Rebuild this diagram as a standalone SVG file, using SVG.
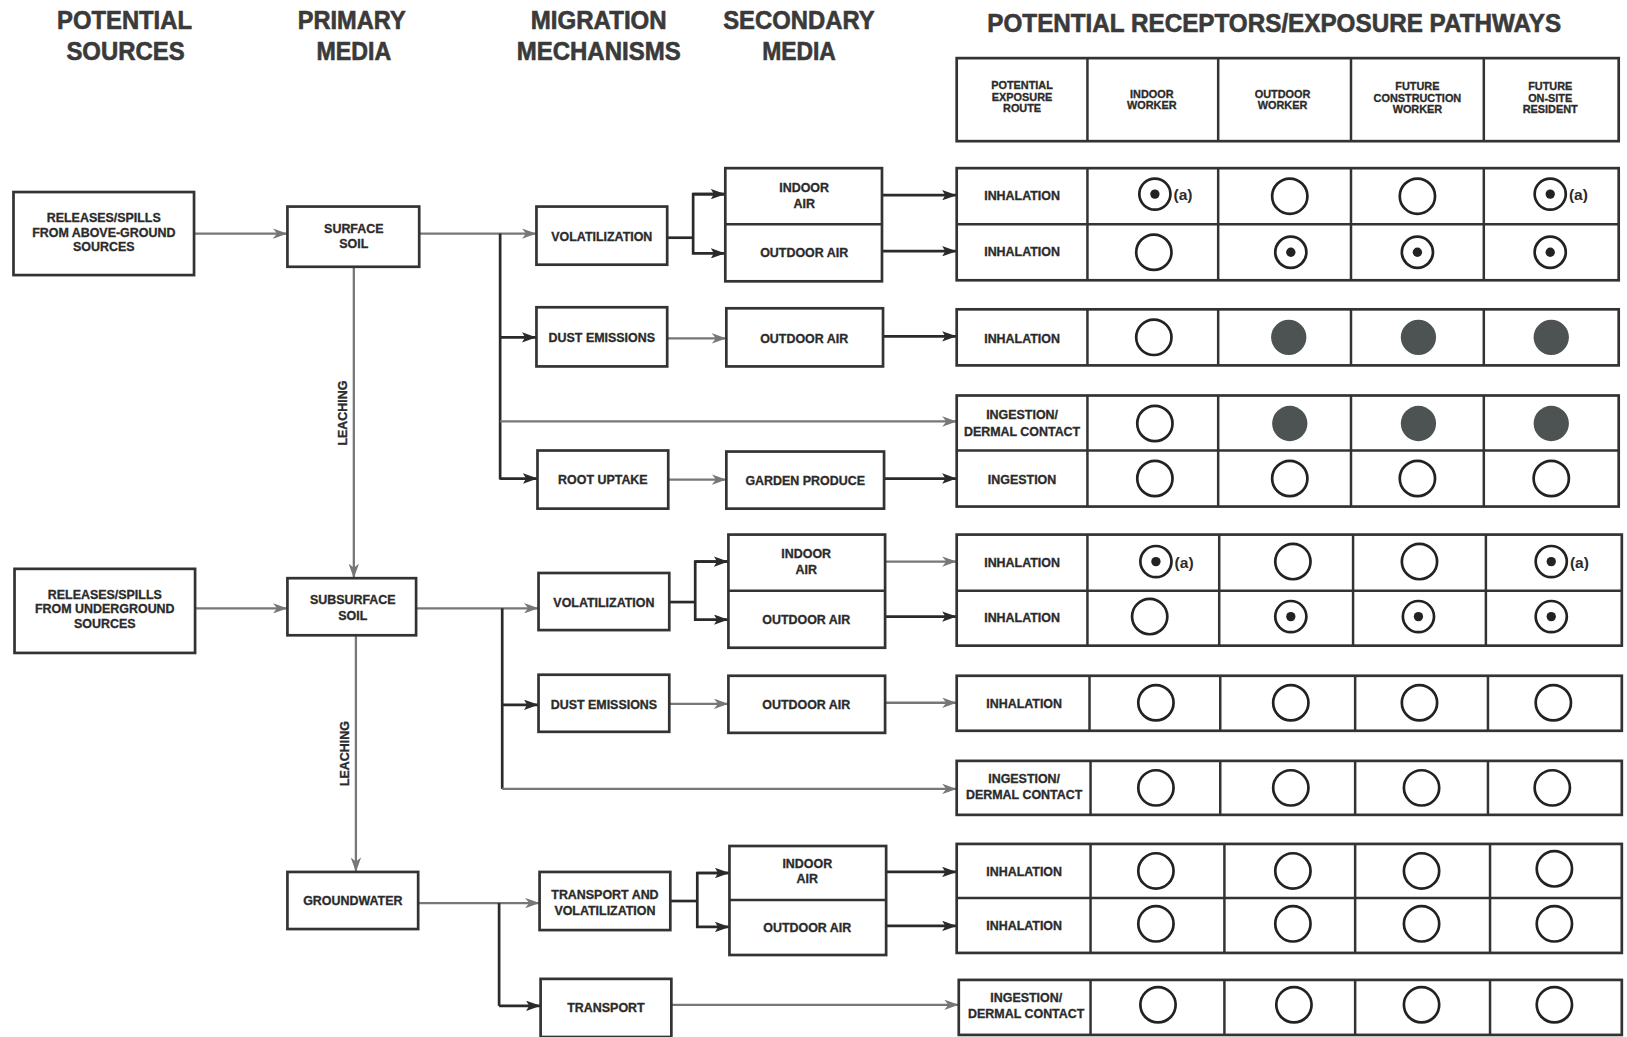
<svg xmlns="http://www.w3.org/2000/svg" width="1627" height="1037" viewBox="0 0 1627 1037">
<style>
.bx{fill:#fff;stroke:#333;stroke-width:2.6}
.tl{fill:none;stroke:#333;stroke-width:2.4}
.t{font-family:"Liberation Sans",Arial,sans-serif;font-weight:bold;font-size:12px;fill:#2b2b2b;stroke:#2b2b2b;stroke-width:0.3;text-anchor:middle}
.h{font-family:"Liberation Sans",Arial,sans-serif;font-weight:bold;font-size:25px;fill:#3a3a3a;stroke:#3a3a3a;stroke-width:0.6;text-anchor:middle}
.s{font-family:"Liberation Sans",Arial,sans-serif;font-weight:bold;font-size:10.5px;fill:#2b2b2b;stroke:#2b2b2b;stroke-width:0.3;text-anchor:middle}
.a{font-family:"Liberation Sans",Arial,sans-serif;font-weight:bold;font-size:15px;fill:#2b2b2b}
.d{fill:none;stroke:#2a2a2a;stroke-width:2.6}
.g{fill:none;stroke:#777;stroke-width:2.2}
.o{fill:none;stroke:#222;stroke-width:2.6}
.f{fill:#4d5352}
.p{fill:#222}
</style>
<defs>
<marker id="ma" viewBox="0 0 14 10" refX="14" refY="5" markerWidth="14" markerHeight="10" markerUnits="userSpaceOnUse" orient="auto"><path d="M0,0 L14,5 L0,10 L3,5 z" fill="#2a2a2a"/></marker>
<marker id="mg" viewBox="0 0 14 10" refX="14" refY="5" markerWidth="14" markerHeight="10" markerUnits="userSpaceOnUse" orient="auto"><path d="M0,0 L14,5 L0,10 L4,5 z" fill="#777"/></marker>
</defs>
<rect width="1627" height="1037" fill="#fff"/>
<g transform="scale(1.03763 1.03804)">
<g id="titles">
<text class="h" x="120" y="28" textLength="130" lengthAdjust="spacingAndGlyphs">POTENTIAL</text>
<text class="h" x="121" y="58" textLength="114" lengthAdjust="spacingAndGlyphs">SOURCES</text>
<text class="h" x="339" y="28" textLength="104" lengthAdjust="spacingAndGlyphs">PRIMARY</text>
<text class="h" x="341" y="58" textLength="72" lengthAdjust="spacingAndGlyphs">MEDIA</text>
<text class="h" x="577" y="28" textLength="131" lengthAdjust="spacingAndGlyphs">MIGRATION</text>
<text class="h" x="577" y="58" textLength="158" lengthAdjust="spacingAndGlyphs">MECHANISMS</text>
<text class="h" x="770" y="28" textLength="146" lengthAdjust="spacingAndGlyphs">SECONDARY</text>
<text class="h" x="770" y="58" textLength="71" lengthAdjust="spacingAndGlyphs">MEDIA</text>
<text class="h" x="1228" y="31" textLength="553" lengthAdjust="spacingAndGlyphs">POTENTIAL RECEPTORS/EXPOSURE PATHWAYS</text>
</g>
<g id="connectors">
<line class="g" x1="187" y1="225" x2="277" y2="225" marker-end="url(#mg)"/>
<line class="g" x1="404" y1="225" x2="517" y2="225" marker-end="url(#mg)"/>
<line class="d" x1="482" y1="225" x2="482" y2="462"/>
<line class="d" x1="482" y1="325" x2="517" y2="325" marker-end="url(#ma)"/>
<line class="g" x1="482" y1="406" x2="922" y2="406" marker-end="url(#mg)"/>
<line class="d" x1="482" y1="461" x2="518" y2="461" marker-end="url(#ma)"/>
<polyline class="d" points="643,229 668,229"/>
<polyline class="d" points="699,187 668,187 668,244 699,244" marker-end="url(#ma)"/>
<line class="d" x1="668" y1="187" x2="699" y2="187" marker-end="url(#ma)"/>
<line class="d" x1="850" y1="188" x2="922" y2="188" marker-end="url(#ma)"/>
<line class="d" x1="850" y1="242" x2="922" y2="242" marker-end="url(#ma)"/>
<line class="g" x1="643" y1="326" x2="700" y2="326" marker-end="url(#mg)"/>
<line class="d" x1="851" y1="324" x2="922" y2="324" marker-end="url(#ma)"/>
<line class="g" x1="644" y1="462" x2="700" y2="462" marker-end="url(#mg)"/>
<line class="d" x1="852" y1="461" x2="922" y2="461" marker-end="url(#ma)"/>
<line class="g" x1="341" y1="257" x2="341" y2="557" marker-end="url(#mg)"/>
<line class="g" x1="188" y1="586" x2="277" y2="586" marker-end="url(#mg)"/>
<line class="g" x1="401" y1="586" x2="519" y2="586" marker-end="url(#mg)"/>
<line class="d" x1="484" y1="586" x2="484" y2="760"/>
<line class="d" x1="484" y1="679" x2="519" y2="679" marker-end="url(#ma)"/>
<line class="g" x1="484" y1="760" x2="922" y2="760" marker-end="url(#mg)"/>
<polyline class="d" points="645,580 670,580"/>
<polyline class="d" points="702,541 670,541 670,597 702,597" marker-end="url(#ma)"/>
<line class="d" x1="670" y1="541" x2="702" y2="541" marker-end="url(#ma)"/>
<line class="g" x1="853" y1="541" x2="922" y2="541" marker-end="url(#mg)"/>
<line class="d" x1="853" y1="594" x2="922" y2="594" marker-end="url(#ma)"/>
<line class="g" x1="645" y1="678" x2="702" y2="678" marker-end="url(#mg)"/>
<line class="g" x1="853" y1="677" x2="922" y2="677" marker-end="url(#mg)"/>
<line class="g" x1="343" y1="612" x2="343" y2="840" marker-end="url(#mg)"/>
<line class="g" x1="403" y1="870" x2="520" y2="870" marker-end="url(#mg)"/>
<line class="d" x1="481" y1="870" x2="481" y2="969"/>
<line class="d" x1="481" y1="969" x2="521" y2="969" marker-end="url(#ma)"/>
<polyline class="d" points="646,868 672,868"/>
<polyline class="d" points="703,841 672,841 672,893 703,893" marker-end="url(#ma)"/>
<line class="d" x1="672" y1="841" x2="703" y2="841" marker-end="url(#ma)"/>
<line class="d" x1="854" y1="840" x2="922" y2="840" marker-end="url(#ma)"/>
<line class="d" x1="854" y1="892" x2="922" y2="892" marker-end="url(#ma)"/>
<line class="g" x1="647" y1="968" x2="924" y2="968" marker-end="url(#mg)"/>
<text class="t" transform="translate(334 398) rotate(-90)">LEACHING</text>
<text class="t" transform="translate(336 726) rotate(-90)">LEACHING</text>
</g>
<g id="src1"><rect class="bx" x="13" y="185" width="174" height="80"/>
<text class="t" x="100" y="214">RELEASES/SPILLS</text><text class="t" x="100" y="228">FROM ABOVE-GROUND</text><text class="t" x="100" y="242">SOURCES</text></g>
<g id="src2"><rect class="bx" x="14" y="548" width="174" height="81"/>
<text class="t" x="101" y="577">RELEASES/SPILLS</text><text class="t" x="101" y="591">FROM UNDERGROUND</text><text class="t" x="101" y="605">SOURCES</text></g>
<g id="surface"><rect class="bx" x="277" y="199" width="127" height="58"/>
<text class="t" x="341" y="224">SURFACE</text><text class="t" x="341" y="239">SOIL</text></g>
<g id="subsurface"><rect class="bx" x="277" y="557" width="124" height="55"/>
<text class="t" x="340" y="582">SUBSURFACE</text><text class="t" x="340" y="597">SOIL</text></g>
<g id="groundwater"><rect class="bx" x="277" y="840" width="126" height="55"/>
<text class="t" x="340" y="872">GROUNDWATER</text></g>
<g id="vol1"><rect class="bx" x="517" y="199" width="126" height="56"/><text class="t" x="580" y="232">VOLATILIZATION</text></g>
<g id="dust1"><rect class="bx" x="517" y="296" width="126" height="57"/><text class="t" x="580" y="329">DUST EMISSIONS</text></g>
<g id="root"><rect class="bx" x="518" y="434" width="126" height="56"/><text class="t" x="581" y="466">ROOT UPTAKE</text></g>
<g id="vol2"><rect class="bx" x="519" y="552" width="126" height="55"/><text class="t" x="582" y="585">VOLATILIZATION</text></g>
<g id="dust2"><rect class="bx" x="519" y="650" width="126" height="55"/><text class="t" x="582" y="683">DUST EMISSIONS</text></g>
<g id="tv"><rect class="bx" x="520" y="840" width="126" height="56"/><text class="t" x="583" y="866">TRANSPORT AND</text><text class="t" x="583" y="881">VOLATILIZATION</text></g>
<g id="transport"><rect class="bx" x="521" y="943" width="126" height="56"/><text class="t" x="584" y="975">TRANSPORT</text></g>
<g id="air1"><rect class="bx" x="699" y="162" width="151" height="109"/><line class="tl" x1="699" y1="216" x2="850" y2="216"/>
<text class="t" x="775" y="185">INDOOR</text><text class="t" x="775" y="200">AIR</text><text class="t" x="775" y="248">OUTDOOR AIR</text></g>
<g id="oa1"><rect class="bx" x="700" y="297" width="151" height="56"/><text class="t" x="775" y="330">OUTDOOR AIR</text></g>
<g id="garden"><rect class="bx" x="700" y="435" width="152" height="55"/><text class="t" x="776" y="467">GARDEN PRODUCE</text></g>
<g id="air2"><rect class="bx" x="702" y="515" width="151" height="109"/><line class="tl" x1="702" y1="569" x2="853" y2="569"/>
<text class="t" x="777" y="538">INDOOR</text><text class="t" x="777" y="553">AIR</text><text class="t" x="777" y="601">OUTDOOR AIR</text></g>
<g id="oa2"><rect class="bx" x="702" y="651" width="151" height="55"/><text class="t" x="777" y="683">OUTDOOR AIR</text></g>
<g id="air3"><rect class="bx" x="703" y="815" width="151" height="105"/><line class="tl" x1="703" y1="867" x2="854" y2="867"/>
<text class="t" x="778" y="836">INDOOR</text><text class="t" x="778" y="851">AIR</text><text class="t" x="778" y="898">OUTDOOR AIR</text></g>
<g id="header"><rect class="bx" x="922" y="56" width="638" height="80"/>
<path class="tl" d="M1048,56V136M1174,56V136M1302,56V136M1430,56V136"/>
<text class="s" x="985" y="86">POTENTIAL</text><text class="s" x="985" y="97">EXPOSURE</text><text class="s" x="985" y="108">ROUTE</text>
<text class="s" x="1110" y="94">INDOOR</text><text class="s" x="1110" y="105">WORKER</text>
<text class="s" x="1236" y="94">OUTDOOR</text><text class="s" x="1236" y="105">WORKER</text>
<text class="s" x="1366" y="87">FUTURE</text><text class="s" x="1366" y="98">CONSTRUCTION</text><text class="s" x="1366" y="109">WORKER</text>
<text class="s" x="1494" y="87">FUTURE</text><text class="s" x="1494" y="98">ON-SITE</text><text class="s" x="1494" y="109">RESIDENT</text></g>
<g id="rowA"><rect class="bx" x="922" y="162" width="638" height="108"/><line class="tl" x1="922" y1="216" x2="1560" y2="216"/>
<path class="tl" d="M1048,162V270M1174,162V270M1302,162V270M1430,162V270"/>
<text class="t" x="985" y="193">INHALATION</text><text class="t" x="985" y="247">INHALATION</text>
<circle class="o" cx="1113" cy="187" r="15"/><circle class="p" cx="1113" cy="187" r="4.5"/><text class="a" x="1131" y="193">(a)</text>
<circle class="o" cx="1243" cy="189" r="17"/><circle class="o" cx="1366" cy="189" r="17"/>
<circle class="o" cx="1494" cy="187" r="15"/><circle class="p" cx="1494" cy="187" r="4.5"/><text class="a" x="1512" y="193">(a)</text>
<circle class="o" cx="1112" cy="243" r="17"/>
<circle class="o" cx="1244" cy="243" r="15"/><circle class="p" cx="1244" cy="243" r="4.5"/>
<circle class="o" cx="1366" cy="243" r="15"/><circle class="p" cx="1366" cy="243" r="4.5"/>
<circle class="o" cx="1494" cy="243" r="15"/><circle class="p" cx="1494" cy="243" r="4.5"/></g>
<g id="rowB"><rect class="bx" x="922" y="298" width="638" height="54"/>
<path class="tl" d="M1048,298V352M1174,298V352M1302,298V352M1430,298V352"/>
<text class="t" x="985" y="330">INHALATION</text>
<circle class="o" cx="1112" cy="325" r="17"/><circle class="f" cx="1242" cy="325" r="17"/><circle class="f" cx="1367" cy="325" r="17"/><circle class="f" cx="1495" cy="325" r="17"/></g>
<g id="rowCD"><rect class="bx" x="922" y="381" width="638" height="107"/><line class="tl" x1="922" y1="434" x2="1560" y2="434"/>
<path class="tl" d="M1048,381V488M1174,381V488M1302,381V488M1430,381V488"/>
<text class="t" x="985" y="404">INGESTION/</text><text class="t" x="985" y="420">DERMAL CONTACT</text>
<text class="t" x="985" y="466">INGESTION</text>
<circle class="o" cx="1113" cy="408" r="17"/><circle class="f" cx="1243" cy="408" r="17"/><circle class="f" cx="1367" cy="408" r="17"/><circle class="f" cx="1495" cy="408" r="17"/>
<circle class="o" cx="1113" cy="461" r="17"/><circle class="o" cx="1243" cy="461" r="17"/><circle class="o" cx="1366" cy="461" r="17"/><circle class="o" cx="1495" cy="461" r="17"/></g>
<g id="rowE"><rect class="bx" x="922" y="515" width="641" height="107"/><line class="tl" x1="922" y1="569" x2="1563" y2="569"/>
<path class="tl" d="M1048,515V622M1175,515V622M1304,515V622M1432,515V622"/>
<text class="t" x="985" y="546">INHALATION</text><text class="t" x="985" y="599">INHALATION</text>
<circle class="o" cx="1114" cy="541" r="15"/><circle class="p" cx="1114" cy="541" r="4.5"/><text class="a" x="1132" y="547">(a)</text>
<circle class="o" cx="1246" cy="541" r="17"/><circle class="o" cx="1368" cy="541" r="17"/>
<circle class="o" cx="1495" cy="541" r="15"/><circle class="p" cx="1495" cy="541" r="4.5"/><text class="a" x="1513" y="547">(a)</text>
<circle class="o" cx="1108" cy="594" r="17"/>
<circle class="o" cx="1244" cy="594" r="15"/><circle class="p" cx="1244" cy="594" r="4.5"/>
<circle class="o" cx="1367" cy="594" r="15"/><circle class="p" cx="1367" cy="594" r="4.5"/>
<circle class="o" cx="1495" cy="594" r="15"/><circle class="p" cx="1495" cy="594" r="4.5"/></g>
<g id="rowF"><rect class="bx" x="922" y="651" width="641" height="53"/>
<path class="tl" d="M1050,651V704M1176,651V704M1306,651V704M1434,651V704"/>
<text class="t" x="987" y="682">INHALATION</text>
<circle class="o" cx="1114" cy="677" r="17"/><circle class="o" cx="1244" cy="677" r="17"/><circle class="o" cx="1368" cy="677" r="17"/><circle class="o" cx="1497" cy="677" r="17"/></g>
<g id="rowG"><rect class="bx" x="922" y="733" width="641" height="52"/>
<path class="tl" d="M1051,733V785M1176,733V785M1306,733V785M1434,733V785"/>
<text class="t" x="987" y="754">INGESTION/</text><text class="t" x="987" y="770">DERMAL CONTACT</text>
<circle class="o" cx="1114" cy="759" r="17"/><circle class="o" cx="1244" cy="759" r="17"/><circle class="o" cx="1370" cy="759" r="17"/><circle class="o" cx="1496" cy="759" r="17"/></g>
<g id="rowH"><rect class="bx" x="922" y="813" width="641" height="105"/><line class="tl" x1="922" y1="865" x2="1563" y2="865"/>
<path class="tl" d="M1051,813V918M1180,813V918M1306,813V918M1436,813V918"/>
<text class="t" x="987" y="844">INHALATION</text><text class="t" x="987" y="896">INHALATION</text>
<circle class="o" cx="1114" cy="839" r="17"/><circle class="o" cx="1246" cy="839" r="17"/><circle class="o" cx="1370" cy="839" r="17"/><circle class="o" cx="1498" cy="837" r="17"/>
<circle class="o" cx="1114" cy="890" r="17"/><circle class="o" cx="1246" cy="890" r="17"/><circle class="o" cx="1370" cy="890" r="17"/><circle class="o" cx="1498" cy="890" r="17"/></g>
<g id="rowI"><rect class="bx" x="924" y="944" width="639" height="53"/>
<path class="tl" d="M1051,944V997M1180,944V997M1306,944V997M1436,944V997"/>
<text class="t" x="989" y="965">INGESTION/</text><text class="t" x="989" y="981">DERMAL CONTACT</text>
<circle class="o" cx="1116" cy="968" r="17"/><circle class="o" cx="1247" cy="968" r="17"/><circle class="o" cx="1370" cy="968" r="17"/><circle class="o" cx="1498" cy="968" r="17"/></g>
</g>
</svg>
